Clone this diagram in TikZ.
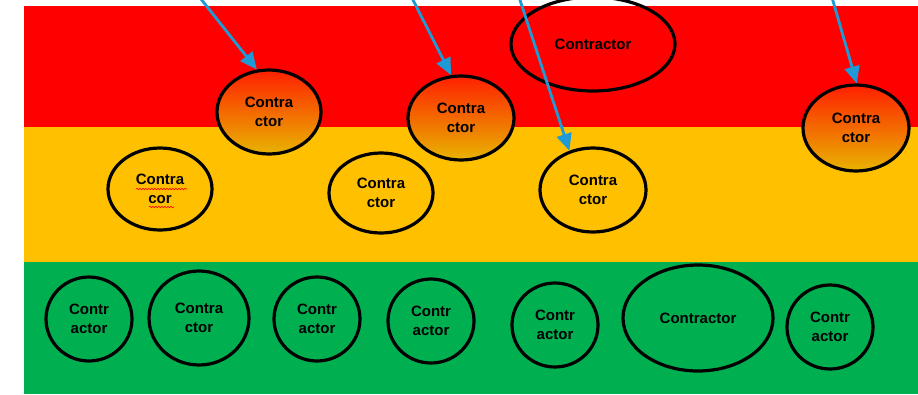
\documentclass[tikz,border=0pt]{standalone}
\usepackage{fontspec}
\setmainfont{Liberation Sans}
\usetikzlibrary{shapes.geometric,arrows.meta,decorations.pathmorphing}
\definecolor{bandred}{HTML}{FF0000}
\definecolor{bandyellow}{HTML}{FFC000}
\definecolor{bandgreen}{HTML}{00B050}
\definecolor{gradtop}{HTML}{FF2000}
\definecolor{gradbot}{HTML}{E8B400}
\definecolor{arrowblue}{HTML}{1E9BD7}
\tikzset{
  oval/.style={ellipse,draw=black,line width=3.2pt,inner sep=0pt,align=center,
    font=\fontsize{15}{19}\selectfont\bfseries},
  gradoval/.style={oval,top color=gradtop,bottom color=gradbot},
  pointer/.style={draw=arrowblue,line width=2.8pt,-{Triangle[length=17pt,width=15pt]}},
  squiggle/.style={draw=red,line width=0.6pt,decorate,decoration={snake,amplitude=0.8pt,segment length=3pt}}
}
\begin{document}
\begin{tikzpicture}[x=1pt,y=-1pt]
\useasboundingbox (0,0) rectangle (918,394);
% bands
\fill[bandred] (24,6) rectangle (918,127);
\fill[bandyellow] (24,127) rectangle (918,262);
\fill[bandgreen] (24,262) rectangle (918,394);
% red band
\node[oval,minimum width=164pt,minimum height=94pt] (r1) at (593,44) {Contractor};
% gradient ellipses
\node[gradoval,minimum width=104pt,minimum height=84pt] (g1) at (269,112) {Contra\\ctor};
\node[gradoval,minimum width=106pt,minimum height=84pt] (g2) at (461,118) {Contra\\ctor};
\node[gradoval,minimum width=106pt,minimum height=86pt] (g3) at (856,128) {Contra\\ctor};
% yellow band
\node[oval,minimum width=104pt,minimum height=82pt] (y1) at (160,189) {Contra\\cor};
\node[oval,minimum width=104pt,minimum height=80pt] (y2) at (381,193) {Contra\\ctor};
\node[oval,minimum width=106pt,minimum height=84pt] (y3) at (593,190) {Contra\\ctor};
% spelling squiggles
\coordinate (s1a) at (136,189); \coordinate (s1b) at (187,189);
\coordinate (s2a) at (149,207); \coordinate (s2b) at (174,207);
\draw[squiggle] (s1a) -- (s1b);
\draw[squiggle] (s2a) -- (s2b);
% green band
\node[oval,minimum width=86pt,minimum height=84pt] (n1) at (89,319) {Contr\\actor};
\node[oval,minimum width=100pt,minimum height=94pt] (n2) at (199,318) {Contra\\ctor};
\node[oval,minimum width=86pt,minimum height=84pt] (n3) at (317,319) {Contr\\actor};
\node[oval,minimum width=86pt,minimum height=84pt] (n4) at (431,321) {Contr\\actor};
\node[oval,minimum width=86pt,minimum height=84pt] (n5) at (555,325) {Contr\\actor};
\node[oval,minimum width=150pt,minimum height=106pt] (n6) at (698,318) {Contractor};
\node[oval,minimum width=86pt,minimum height=84pt] (n7) at (830,327) {Contr\\actor};
% arrows
\coordinate (a1) at (197,-6);
\coordinate (a2) at (410,-6);
\coordinate (a3) at (518,-6);
\coordinate (a4) at (831,-6);
\draw[pointer] (a1) -- (g1.106);
\draw[pointer] (a2) -- (g2.103);
\draw[pointer] (a3) -- (y3.121);
\draw[pointer] (a4) -- (g3.89);
\end{tikzpicture}
\end{document}
